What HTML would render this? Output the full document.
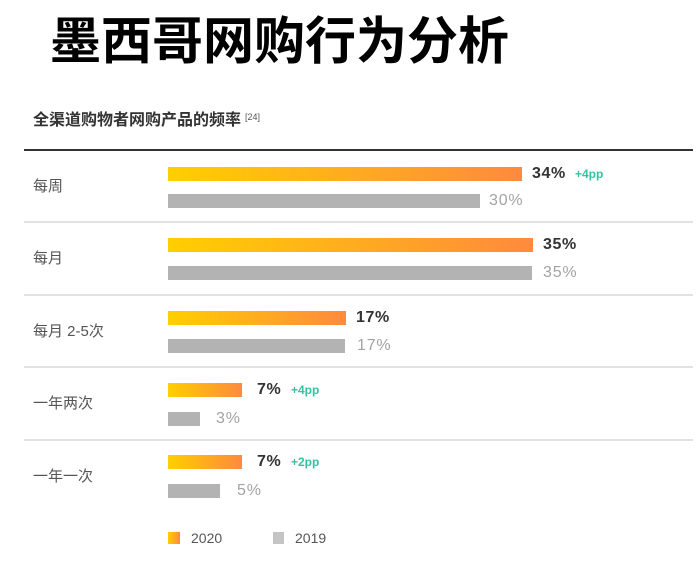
<!DOCTYPE html>
<html>
<head>
<meta charset="utf-8">
<style>
html,body{margin:0;padding:0;background:#fff;}
body{width:700px;height:567px;position:relative;overflow:hidden;font-family:"Liberation Sans","Noto Sans CJK SC",sans-serif;}
.a{position:absolute;white-space:nowrap;}
.title{left:50px;top:12px;font-size:51px;line-height:60px;font-weight:700;color:#000;font-family:"Liberation Sans","Noto Sans CJK SC",sans-serif;}
.sub{left:33px;top:111px;font-size:16px;line-height:20px;font-weight:700;color:#333;}
.sub sup{font-size:9px;font-weight:400;color:#555;vertical-align:0;position:relative;top:-5px;margin-left:4px;}
.line{position:absolute;left:24px;width:669px;height:2px;background:#e2e2e2;}
.line.top{background:#333;top:149px;}
.lbl{left:33px;font-size:15px;line-height:20px;color:#555;}
.o{position:absolute;left:168px;height:14px;background:linear-gradient(to right,#ffcf00,#ff8a3d);}
.g{position:absolute;left:168px;height:14px;background:#b3b3b3;}
.v{font-size:16px;line-height:20px;font-weight:700;color:#333;letter-spacing:0.6px;}
.gv{font-size:16px;line-height:20px;color:#a3a3a3;letter-spacing:0.8px;}
.pp{font-size:12px;line-height:20px;font-weight:700;color:#33c3a3;}
.leg{font-size:14px;line-height:20px;color:#555;}
</style>
</head>
<body>
<div class="a title">墨西哥网购行为分析</div>
<div class="a sub">全渠道购物者网购产品的频率<sup>[24]</sup></div>

<div class="line top"></div>
<div class="line" style="top:221px"></div>
<div class="line" style="top:294px"></div>
<div class="line" style="top:366px"></div>
<div class="line" style="top:439px"></div>

<div class="a lbl" style="top:177px">每周</div>
<div class="a lbl" style="top:249px">每月</div>
<div class="a lbl" style="top:322px">每月 2-5次</div>
<div class="a lbl" style="top:394px">一年两次</div>
<div class="a lbl" style="top:467px">一年一次</div>

<!-- Row 1 -->
<div class="o" style="top:167px;width:354px"></div>
<div class="g" style="top:194px;width:312px"></div>
<div class="a v" style="left:532px;top:164px">34%</div>
<div class="a pp" style="left:575px;top:164px">+4pp</div>
<div class="a gv" style="left:489px;top:191px">30%</div>

<!-- Row 2 -->
<div class="o" style="top:238px;width:365px"></div>
<div class="g" style="top:266px;width:364px"></div>
<div class="a v" style="left:543px;top:235px">35%</div>
<div class="a gv" style="left:543px;top:263px">35%</div>

<!-- Row 3 -->
<div class="o" style="top:311px;width:178px"></div>
<div class="g" style="top:339px;width:177px"></div>
<div class="a v" style="left:356px;top:308px">17%</div>
<div class="a gv" style="left:357px;top:336px">17%</div>

<!-- Row 4 -->
<div class="o" style="top:383px;width:74px"></div>
<div class="g" style="top:412px;width:32px"></div>
<div class="a v" style="left:257px;top:380px">7%</div>
<div class="a pp" style="left:291px;top:380px">+4pp</div>
<div class="a gv" style="left:216px;top:409px">3%</div>

<!-- Row 5 -->
<div class="o" style="top:455px;width:74px"></div>
<div class="g" style="top:484px;width:52px"></div>
<div class="a v" style="left:257px;top:452px">7%</div>
<div class="a pp" style="left:291px;top:452px">+2pp</div>
<div class="a gv" style="left:237px;top:481px">5%</div>

<!-- Legend -->
<div class="o" style="top:532px;width:12px;height:12px"></div>
<div class="a leg" style="left:191px;top:528px">2020</div>
<div class="g" style="left:273px;top:532px;width:11px;height:12px;background:#c4c4c4"></div>
<div class="a leg" style="left:295px;top:528px">2019</div>
</body>
</html>
